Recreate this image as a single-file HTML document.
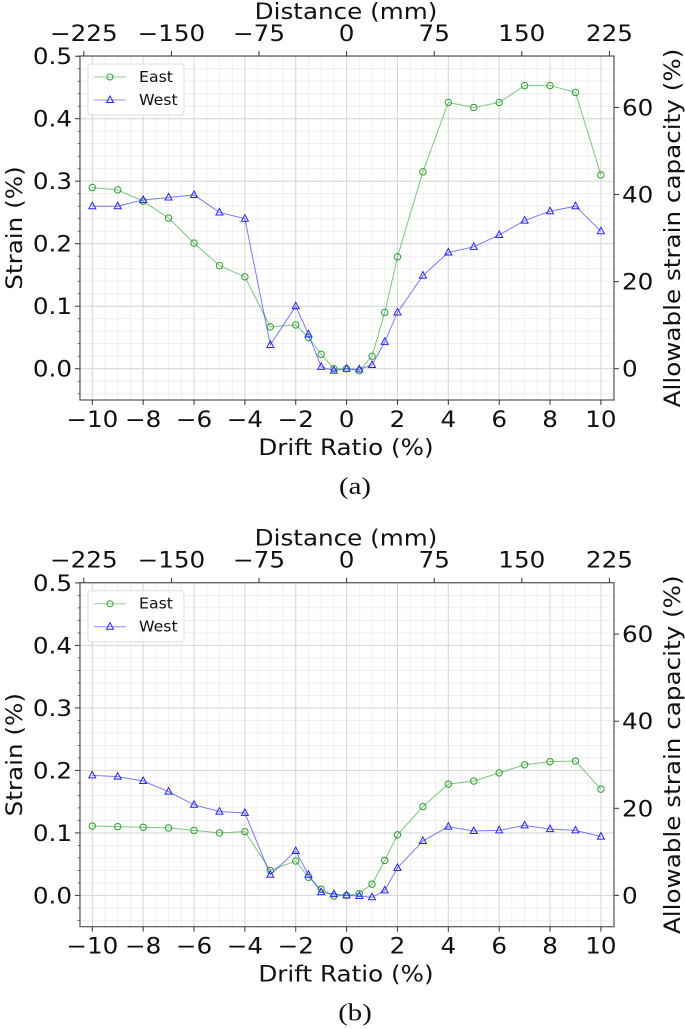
<!DOCTYPE html>
<html><head><meta charset="utf-8"><style>
html,body{margin:0;padding:0;background:#fff;}
svg{display:block;font-family:"DejaVu Sans","Liberation Sans",sans-serif;}
</style></head><body>
<svg id="fig" width="685" height="1029" viewBox="0 0 685 1029" xmlns="http://www.w3.org/2000/svg"></svg>
<script>
const drift = [-10,-9,-8,-7,-6,-5,-4,-3,-2,-1.5,-1,-0.5,0,0.5,1,1.5,2,3,4,5,6,7,8,9,10];
const eastA = [.29,.286,.268,.241,.201,.165,.147,.067,.07,.05,.023,0,0,-.003,.02,.09,.179,.315,.426,.418,.426,.453,.453,.442,.31];
const westA = [.26,.26,.27,.274,.278,.25,.24,.038,.1,.055,.003,-.003,0,-.001,.006,.043,.09,.149,.186,.195,.214,.237,.252,.26,.22];
const eastB = [.111,.11,.109,.108,.104,.1,.102,.04,.055,.029,.01,-.001,0,.003,.018,.056,.097,.142,.178,.183,.196,.209,.214,.215,.17];
const westB = [.192,.19,.183,.166,.145,.134,.132,.033,.071,.033,.005,.002,0,-.001,-.003,.008,.044,.087,.11,.103,.104,.112,.106,.104,.094];
const xTicks = [-10,-8,-6,-4,-2,0,2,4,6,8,10];
const yTicks = [0,0.1,0.2,0.3,0.4,0.5];
const mmTicks = [-225,-150,-75,0,75,150,225];
const capTicks = [0,20,40,60];

const NS='http://www.w3.org/2000/svg';
const svg=document.getElementById('fig');
function mk(tag,attrs,parent){const e=document.createElementNS(NS,tag);for(const k in attrs)e.setAttribute(k,attrs[k]);(parent||svg).appendChild(e);return e;}
function fmt(v){return (v<0?'\u2212':'')+Math.abs(v);}
function txt(parent,x,y,str,size,anchor,sx,rot,extra){
  const a={x:0,y:0,'font-size':size,'text-anchor':anchor,fill:'#111',transform:`translate(${x},${y}) scale(${sx},1)`+(rot?' rotate(-90)':'')};
  if(extra)for(const k in extra)a[k]=extra[k];
  const t=mk('text',a,parent);t.textContent=str;return t;
}

function panel(top,east,west,label,pname){
  const g=mk('g',{});
  
  
  const L=80,R=614,T=top,B=top+344;
  const X=d=>346.6+d*25.43;
  const Y=s=>(T+312.7)-s*625;
  const M=mm=>346.6+mm*1.168;
  const C=c=>Y(c*0.418/60);
  for(let d=-10.5;d<=10.5;d+=0.5){const x=X(d);mk('line',{x1:x,x2:x,y1:T,y2:B,stroke:'#ececec','stroke-width':0.8},g);}
  for(let s=-0.04;s<=0.5;s+=0.02){const y=Y(s);mk('line',{x1:L,x2:R,y1:y,y2:y,stroke:'#ececec','stroke-width':0.8},g);}
  xTicks.forEach(d=>{const x=X(d);mk('line',{x1:x,x2:x,y1:T,y2:B,stroke:'#d6d6d6','stroke-width':1},g);});
  yTicks.forEach(s=>{const y=Y(s);mk('line',{x1:L,x2:R,y1:y,y2:y,stroke:'#d6d6d6','stroke-width':1},g);});
  const fr=mk('rect',{x:L,y:T,width:R-L,height:B-T,fill:'none',stroke:'#555','stroke-width':1.2},g);
  
  
  const SX=1.12, FS=22;
  xTicks.forEach(d=>{const x=X(d);mk('line',{x1:x,x2:x,y1:B,y2:B+5,stroke:'#333'},g);
    const t=txt(g,x,B+27,fmt(d),FS,'middle',SX);
    });
  yTicks.forEach(s=>{const y=Y(s);mk('line',{x1:L-5,x2:L,y1:y,y2:y,stroke:'#333'},g);
    const t=txt(g,L-8,y+8,s.toFixed(1),FS,'end',SX);
    });
  for(let s=-0.04;s<=0.5;s+=0.02){const y=Y(s);mk('line',{x1:L-2.5,x2:L,y1:y,y2:y,stroke:'#555','stroke-width':0.8},g);}
  mmTicks.forEach(m=>{const x=M(m);mk('line',{x1:x,x2:x,y1:T-5,y2:T,stroke:'#333'},g);
    const t=txt(g,x,T-15,fmt(m),FS,'middle',SX);
    });
  capTicks.forEach(c=>{const y=C(c);mk('line',{x1:R,x2:R+5,y1:y,y2:y,stroke:'#333'},g);
    const t=txt(g,R+8,y+8,String(c),FS,'start',SX);
    });
  let t=txt(g,346,T-37,'Distance (mm)',FS,'middle',SX);
  
  t=txt(g,346,B+55,'Drift Ratio (%)',FS,'middle',SX);
  
  t=txt(g,22,(T+B)/2,'Strain (%)',FS,'middle',1,true,{'transform':`translate(22,${(T+B)/2}) rotate(-90) scale(${SX},1)`});
  
  t=txt(g,680,(T+B)/2,'Allowable strain capacity (%)',FS,'middle',1,true,{'transform':`translate(680,${(T+B)/2}) rotate(-90) scale(${SX},1)`});
  
  t=txt(g,355,B+94,label,24,'middle',1.2,false,{'font-family':'Liberation Serif, serif'});
  
  function series(vals,col,shape,name){
    const sg=mk('g',{},g);
    
    
    mk('polyline',{points:drift.map((d,i)=>X(d)+','+Y(vals[i])).join(' '),fill:'none',stroke:col,'stroke-width':1,'stroke-opacity':0.6},sg);
    drift.forEach((d,i)=>{const x=X(d),y=Y(vals[i]);let m;
      if(shape==='o')m=mk('circle',{cx:x,cy:y,r:3.2,fill:'none',stroke:col,'stroke-width':1},sg);
      else m=mk('polygon',{points:`${x},${y-4} ${x-3.5},${y+2.5} ${x+3.5},${y+2.5}`,fill:'none',stroke:col,'stroke-width':1},sg);
      });
  }
  series(east,'#2ca02c','o','east-series');
  series(west,'#2222ff','t','west-series');
  const lg=mk('g',{},g);
  
  
  mk('rect',{x:88,y:T+8,width:96,height:51,rx:3,fill:'#fff','fill-opacity':0.85,stroke:'#ddd'},lg);
  const ly1=T+21,ly2=T+44;
  mk('line',{x1:94,x2:126,y1:ly1,y2:ly1,stroke:'#2ca02c','stroke-opacity':0.5},lg);
  mk('circle',{cx:110,cy:ly1,r:3,fill:'none',stroke:'#2ca02c'},lg);
  mk('line',{x1:94,x2:126,y1:ly2,y2:ly2,stroke:'#2222ff','stroke-opacity':0.5},lg);
  mk('polygon',{points:`110,${ly2-4} 106.5,${ly2+2.5} 113.5,${ly2+2.5}`,fill:'none',stroke:'#2222ff'},lg);
  t=txt(lg,139,ly1+5,'East',15,'start',1.05);
  
  t=txt(lg,139,ly2+5,'West',15,'start',1.05);
  
}
panel(56,eastA,westA,'(a)','panel-a');
panel(582.7,eastB,westB,'(b)','panel-b');
</script>
</body></html>
